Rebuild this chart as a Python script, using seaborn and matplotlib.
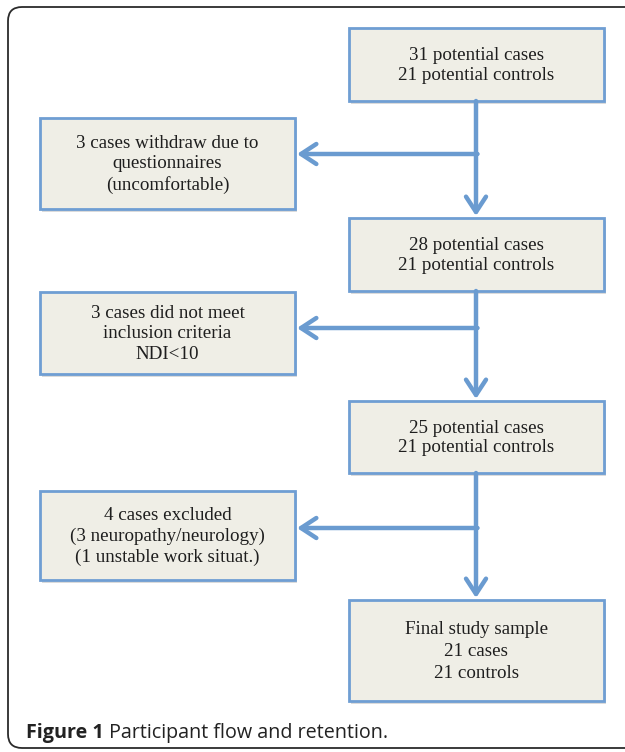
import matplotlib
matplotlib.use("Agg")
import matplotlib.pyplot as plt
import seaborn as sns
from matplotlib.patches import Rectangle, FancyBboxPatch

# flowchart content
main_labels = [
    "31 potential cases\n21 potential controls",
    "28 potential cases\n21 potential controls",
    "25 potential cases\n21 potential controls",
    "Final study sample\n21 cases\n21 controls",
]
side_labels = [
    "3 cases withdraw due to\nquestionnaires\n(uncomfortable)",
    "3 cases did not meet\ninclusion criteria\nNDI<10",
    "4 cases excluded\n(3 neuropathy/neurology)\n(1 unstable work situat.)",
]
caption_bold = "Figure 1"
caption_rest = " Participant flow and retention."

# layout (pixel coordinates of the page)
main_x = (349, 604)
main_y = [(28, 101), (218, 291), (401, 473), (600, 701)]
side_x = (40, 295)
side_y = [(118, 209), (292, 374), (491, 580)]
branch_y = [154, 328, 528]
trunk_x = 476

FILL = "#efeee6"
EDGE = "#6f9ed3"
ARROW = "#6a9bd0"

sns.set_theme(style="white")
plt.rcParams['font.family'] = ['Liberation Serif', 'DejaVu Serif']

fig = plt.figure(figsize=(6.25, 7.52), dpi=100)
ax = fig.add_axes([0, 0, 1, 1])
ax.set_xlim(0, 625)
ax.set_ylim(752, 0)
ax.axis("off")

# outer frame (runs off the right edge)
frame = FancyBboxPatch((8, 7), 660, 741, boxstyle="round,pad=0,rounding_size=14",
                       fc="white", ec="#2b2b2b", lw=1.3, zorder=0)
ax.add_patch(frame)


def draw_box(x0, x1, y0, y1, label, spacing=1.22):
    ax.add_patch(Rectangle((x0 + 1.5, y0 + 2.5), x1 - x0, y1 - y0,
                           fc="#9a9a9a", ec="none", alpha=0.35, zorder=1))
    ax.add_patch(Rectangle((x0, y0), x1 - x0, y1 - y0,
                           fc=FILL, ec=EDGE, lw=2.0, zorder=2))
    ax.text((x0 + x1) / 2, (y0 + y1) / 2 + 1, label, ha="center", va="center",
            fontsize=13.7, color="#1e1e1e", linespacing=spacing, zorder=3)


for i, (lab, (y0, y1)) in enumerate(zip(main_labels, main_y)):
    draw_box(main_x[0], main_x[1], y0, y1, lab,
             spacing=1.38 if i == len(main_labels) - 1 else 1.22)
for lab, (y0, y1) in zip(side_labels, side_y):
    draw_box(side_x[0], side_x[1], y0, y1, lab, spacing=1.28)

arrow_kw = dict(arrowstyle="->,head_length=0.55,head_width=0.36", color=ARROW,
                lw=3.2, shrinkA=0, shrinkB=0, mutation_scale=20)

# trunk arrows between main boxes
for i in range(len(main_y) - 1):
    ax.annotate("", xy=(trunk_x, main_y[i + 1][0] - 2), xytext=(trunk_x, main_y[i][1]),
                arrowprops=arrow_kw, zorder=4)
# branch arrows to exclusion boxes
for by in branch_y:
    ax.annotate("", xy=(side_x[1] + 2, by), xytext=(trunk_x + 1.5, by),
                arrowprops=arrow_kw, zorder=4)

# caption
cap_font = ['Open Sans', 'DejaVu Sans']
t1 = ax.text(26, 733, caption_bold, fontsize=14.2, fontweight="bold", family=cap_font,
             color="#222222", ha="left", va="center")
ax.annotate(caption_rest, xy=(1, 0), xycoords=t1, ha="left", va="bottom",
            fontsize=14.2, family=cap_font, color="#222222")

fig.savefig("out.png", dpi=100)
